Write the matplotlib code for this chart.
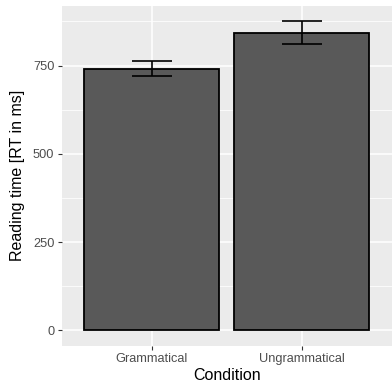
import numpy as np
import matplotlib.pyplot as plt

# Data
conditions = ['Grammatical', 'Ungrammatical']
mean_rt = [741, 843]
err_rt = [22, 32]

y_major = [0, 250, 500, 750]
y_minor = [125, 375, 625, 875]

plt.rcParams['font.family'] = ['Liberation Sans', 'DejaVu Sans']

W, H = 392, 383
fig = plt.figure(figsize=(W / 100, H / 100), dpi=100)
fig.patch.set_facecolor('white')

# panel position in pixels
left, right, top, bottom = 62, 391.5, 6, 345.7
ax = fig.add_axes([left / W, (H - bottom) / H, (right - left) / W, (bottom - top) / H])
ax.set_facecolor('#EBEBEB')

x = np.arange(1, len(conditions) + 1)
ax.bar(x, mean_rt, width=0.9, color='#595959', edgecolor='black', linewidth=1.3, zorder=3)
ax.errorbar(x, mean_rt, yerr=err_rt, fmt='none', ecolor='black', elinewidth=1.2,
            capsize=14.5, capthick=1.2, zorder=4)

top_val = max(m + e for m, e in zip(mean_rt, err_rt))
pad = 0.05 * top_val
ax.set_ylim(-pad, top_val + pad)
ax.set_xlim(0.4, len(conditions) + 0.6)

ax.set_xticks(x)
ax.set_xticklabels(conditions)
ax.set_yticks(y_major)
ax.set_yticks(y_minor, minor=True)

ax.grid(which='major', color='white', linewidth=1.1, zorder=0)
ax.grid(which='minor', axis='y', color='white', linewidth=0.55, zorder=0)
ax.set_axisbelow(True)

for s in ax.spines.values():
    s.set_visible(False)

ax.tick_params(which='major', length=3, width=0.8, color='#333333',
               labelsize=9.2, labelcolor='#4D4D4D', pad=2.5)
ax.tick_params(which='minor', length=0)

ax.set_xlabel('Condition', fontsize=11.5, color='black', labelpad=2)
ax.set_ylabel('Reading time [RT in ms]', fontsize=11.5, color='black', labelpad=6)

fig.savefig('out.png', dpi=100)
